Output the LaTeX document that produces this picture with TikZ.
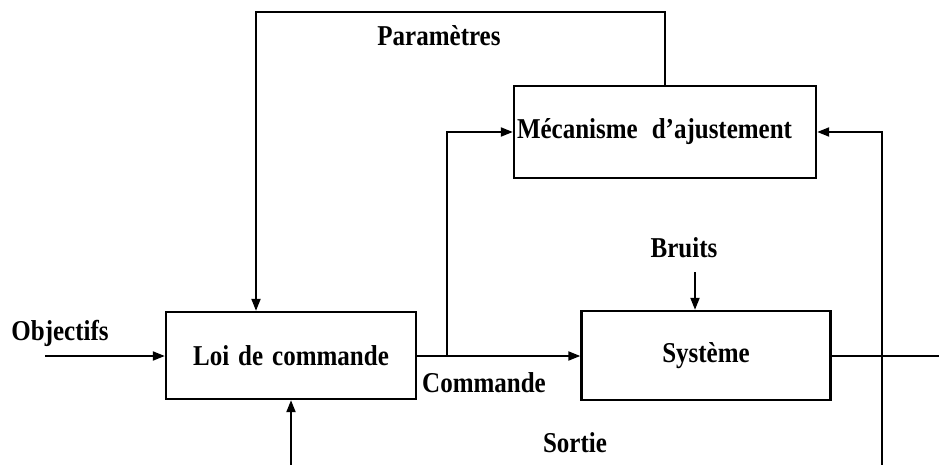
\documentclass[tikz,border=0pt]{standalone}
\usepackage{graphicx}
\usepackage{fontspec}
\setmainfont{Liberation Serif}
\usetikzlibrary{arrows.meta,calc}
% bold label text, slightly stretched upright, with wide word spacing
\newcommand{\txt}[1]{\scalebox{1}[1.15]{\bfseries\fontsize{25}{28}\selectfont\spaceskip=9pt plus 1pt #1}}
\begin{document}
\begin{tikzpicture}[x=1pt,y=-1pt,
  block/.style={draw,line width=2.4pt,rectangle,inner sep=0pt},
  lbl/.style={inner sep=0pt},
  wire/.style={line width=2pt},
  flow/.style={wire,-{Triangle[length=12pt,width=9pt]}}]
  \useasboundingbox (0,0) rectangle (939,465);

  % blocks
  \node[block,minimum width=250pt,minimum height=87pt] (loi) at (291,355.5) {\txt{Loi de commande}};
  \node[block,minimum width=249pt,minimum height=89pt] (sys) at (706,355.5) {\txt{Système}};
  \node[block,minimum width=302pt,minimum height=92pt,text width=296pt,align=left] (mec) at (665,132) {\txt{Mécanisme\hspace{14pt}d’ajustement}};

  % free ends of the signal lines
  \coordinate (obj) at (45,356);
  \coordinate (out) at (939,356);
  \coordinate (sortieA) at (291,465);
  \coordinate (sortieB) at (882,465);
  \coordinate (br) at (447,356);
  \coordinate (top) at (665,12);
  \coordinate (bruitsIn) at (695,272);
  \coordinate (loiPin) at ($(loi.north)+(-35,0)$);
  \coordinate (sysPin) at ($(sys.north)+(-11,0)$);

  % connectors
  \draw[flow] (obj) -- (obj -| loi.west);
  \draw[flow] (loi.east |- br) -- (br -| sys.west);
  \draw[flow] (br) |- (mec.west);
  \draw[wire] (sys.east |- out) -- (out);
  \draw[flow] (sortieB) |- (mec.east);
  \draw[flow] (sortieA) -- (loi.south);
  \draw[flow] (mec.north) -- (top) -| (loiPin);
  \draw[flow] (bruitsIn) -- (sysPin);

  % labels
  \node[lbl] (lpar) at (439,36) {\txt{Paramètres}};
  \node[lbl] (lobj) at (60,333) {\txt{Objectifs}};
  \node[lbl] (lcom) at (484,383) {\txt{Commande}};
  \node[lbl] (lbru) at (684,248) {\txt{Bruits}};
  \node[lbl] (lsor) at (575,443) {\txt{Sortie}};
\end{tikzpicture}
\end{document}
